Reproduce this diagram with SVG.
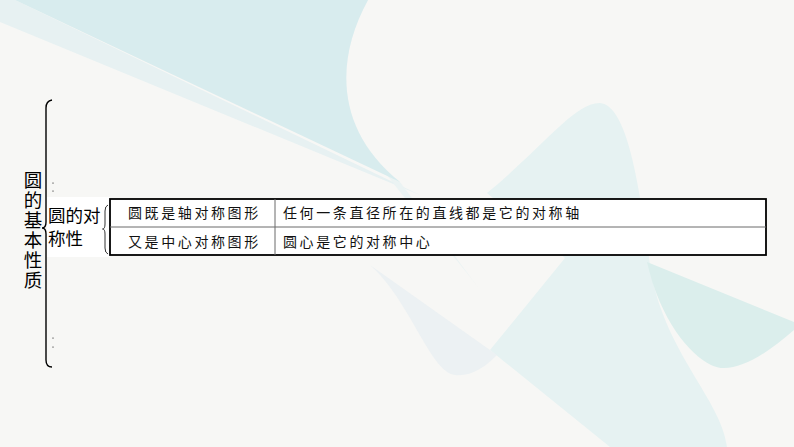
<svg xmlns="http://www.w3.org/2000/svg" width="794" height="447" viewBox="0 0 794 447">
<style>
.bg{fill:#f7f7f5}
.t1{fill:#d8ecee}
.t2{fill:#e7f1f2}
.t3{fill:#ebf3f3}
.t3b{fill:#e6f2f2}
.t4{fill:#dbeeec}
.t5{fill:#ecf1f3}
.sans{font-family:"Noto Sans CJK SC","Noto Sans",sans-serif;fill:#000}
.cell{font-family:"Noto Sans CJK SC","Noto Sans",sans-serif;font-size:14px;letter-spacing:2.6px;fill:#111}
.brace{fill:none;stroke:#000;stroke-width:1.4}
.brace2{fill:none;stroke:#333;stroke-width:1}
.outer{fill:#fff;stroke:#000;stroke-width:1.8}
.inner{stroke:#6a6a6a;stroke-width:1}
.dot{fill:#999}
</style>
<g id="background">
<rect class="bg" x="0" y="0" width="794" height="447"/>
<path class="t2" d="M0,0 L15,0 L420,195 L0,22 Z"/>
<path class="t3" d="M300,0 L368,0 C335,60 335,130 400,182 L480,290 C420,210 330,130 300,0 Z"/>
<path class="t1" d="M15,0 L368,0 C335,60 335,130 400,182 Z"/>
<path class="t3b" d="M487,193 C540,150 575,102 600,103 C628,105 640,190 650,265 C662,350 722,400 727,447 L610,447 L490,350 L565,258 Z"/>
<path class="t4" d="M647,262 L794,322 L794,330 C760,360 730,375 711,365 C690,355 660,320 647,262 Z"/>
<path class="t5" d="M370,265 C410,300 430,372 455,375 C475,377 490,362 497,355 Z"/>
</g>
<g id="root-node">
<text class="sans" font-size="18.5" x="33" y="171" writing-mode="vertical-rl" letter-spacing="1.5">圆的基本性质</text>
</g>
<g id="connectors">
<path class="brace" d="M52,100 Q46,101 46,108 L46,222 Q46,228 42,228 Q46,228 46,234 L46,360 Q46,367 52,367"/>
<rect class="dot" x="52" y="182.5" width="2" height="1.2"/>
<rect class="dot" x="52" y="190.5" width="2" height="1.2"/>
<rect class="dot" x="52" y="337.5" width="2" height="1.2"/>
<rect class="dot" x="52" y="346.5" width="2" height="1.2"/>
</g>
<g id="symmetry-node">
<rect x="47" y="197" width="63" height="60" fill="#fff"/>
<text class="sans" font-size="17.5"><tspan x="48" y="222">圆的对</tspan><tspan x="48" y="245">称性</tspan></text>
<path class="brace2" d="M108,205 Q105,206 105,211 L105,224 Q105,229 102.5,229 Q105,229 105,234 L105,248 Q105,253 108,254"/>
</g>
<g id="table">
<rect class="outer" x="110" y="199" width="656" height="56"/>
<line class="inner" x1="110" y1="227" x2="766" y2="227"/>
<line class="inner" x1="275" y1="199" x2="275" y2="255"/>
<text class="cell" x="128" y="218.3">圆既是轴对称图形</text>
<text class="cell" x="283" y="218.3">任何一条直径所在的直线都是它的对称轴</text>
<text class="cell" x="128" y="246.8">又是中心对称图形</text>
<text class="cell" x="283" y="246.8">圆心是它的对称中心</text>
</g>
</svg>
